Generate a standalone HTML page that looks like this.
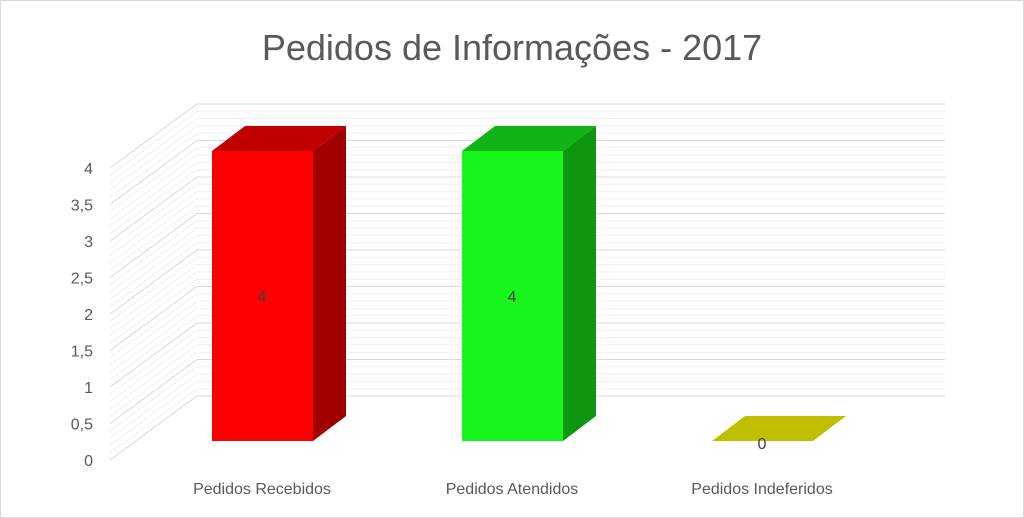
<!DOCTYPE html>
<html><head><meta charset="utf-8"><style>
body{margin:0;background:#fff}
svg{display:block;font-family:"Liberation Sans",sans-serif}
</style></head><body>
<svg id="c" width="1024" height="518" viewBox="0 0 1024 518">
<rect x="0.5" y="0.5" width="1023" height="517" fill="#fff" stroke="#d9d9d9"/>
<text x="512" y="60" text-anchor="middle" font-size="36" fill="#595959">Pedidos de Informações - 2017</text>
<g id="grid"></g><g id="axis"></g><g id="bars"></g>
</svg>
<script>
const categories=["Pedidos Recebidos","Pedidos Atendidos","Pedidos Indeferidos"];
const values=[4,4,0];
const tickLabels=["0","0,5","1","1,5","2","2,5","3","3,5","4"];
const tickValues=[0,0.5,1,1.5,2,2.5,3,3.5,4];
const colors=[["#ff0000","#c00000","#a00000"],["#17f51b","#12b314","#0f9611"],["#c8c800","#bfbf00","#a0a000"]];
const NS="http://www.w3.org/2000/svg";
const yMax=4;
function yFront(v){return 460-v*(292/yMax);}
function yBar(v){return 441-v*(290/yMax);}
function xCat(i){return 262+i*250;}
function mk(t,a,p){const e=document.createElementNS(NS,t);for(const k in a)e.setAttribute(k,a[k]);p.appendChild(e);return e;}
const grid=document.getElementById('grid'),axis=document.getElementById('axis'),bars=document.getElementById('bars');
for(let k=0;k<=40;k++){const v=k*yMax/40;const yf=yFront(v),yb=yf-64;const major=k%5===0;
const l=mk('polyline',{points:`110,${yf} 197,${yb} 945,${yb}`,fill:'none',stroke:major?'#d9d9d9':'#efefef','stroke-width':1},grid);

}
tickValues.forEach((v,i)=>{const t=mk('text',{x:93,y:yFront(v)+6,'text-anchor':'end','font-size':16,fill:'#595959'},axis);t.textContent=tickLabels[i];

});
categories.forEach((c,i)=>{const t=mk('text',{x:xCat(i),y:494,'text-anchor':'middle','font-size':16,fill:'#595959'},axis);t.textContent=c;

});
values.forEach((v,i)=>{const x0=xCat(i)-50,x1=xCat(i)+51,yt=yBar(v),yb=yBar(0),dx=33,dy=-25,col=colors[i];
const g=mk('g',{},bars);


if(v>0){mk('rect',{x:x0,y:yt,width:x1-x0,height:yb-yt,fill:col[0]},g);
mk('polygon',{points:`${x1},${yt} ${x1+dx},${yt+dy} ${x1+dx},${yb+dy} ${x1},${yb}`,fill:col[2]},g);}
mk('polygon',{points:`${x0},${yt} ${x1},${yt} ${x1+dx},${yt+dy} ${x0+dx},${yt+dy}`,fill:col[1]},g);
const t=mk('text',{x:xCat(i),y:v>0?(yt+yb)/2+6:yb+8,'text-anchor':'middle','font-size':16,fill:'#404040'},g);t.textContent=String(v);

});
</script>
</body></html>
